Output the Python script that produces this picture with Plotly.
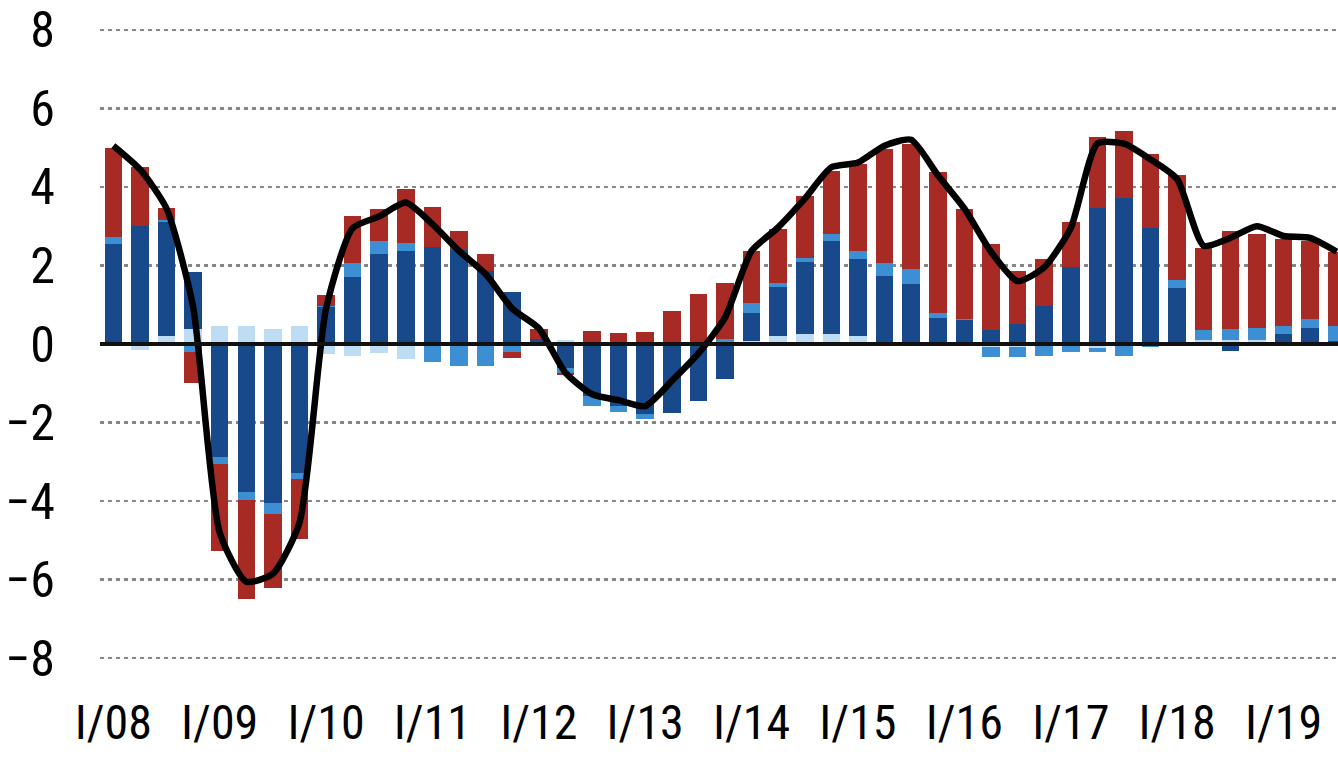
import plotly.graph_objects as go

# quarterly index 0 = I/2008 ... 46 = III/2019
quarters = list(range(47))
tick_pos = [0, 4, 8, 12, 16, 20, 24, 28, 32, 36, 40, 44]
tick_labels = ["I/08", "I/09", "I/10", "I/11", "I/12", "I/13", "I/14",
               "I/15", "I/16", "I/17", "I/18", "I/19"]

light_blue = [0.0, -0.15, 0.2, 0.38, 0.45, 0.46, 0.38, 0.46, -0.25, -0.3,
              -0.22, -0.38, -0.05, -0.03, -0.03, 0.0, 0.0, 0.1, 0.0, 0.0,
              0.0, 0.0, 0.0, 0.0, 0.08, 0.2, 0.25, 0.25, 0.2, 0.05,
              0.02, 0.0, 0.0, -0.07, -0.08, -0.06, -0.05, -0.1, -0.03, 0.0,
              0.03, 0.1, 0.1, 0.1, 0.0, 0.0, 0.0]
dark_blue = [2.55, 3.0, 2.9, 1.45, -2.88, -3.77, -4.05, -3.28, 0.93, 1.7,
             2.29, 2.37, 2.46, 2.39, 1.86, 1.33, 0.12, -0.62, -1.33, -1.58,
             -1.79, -1.75, -1.45, -0.9, 0.72, 1.25, 1.85, 2.38, 1.96, 1.68,
             1.5, 0.67, 0.6, 0.35, 0.5, 0.97, 1.95, 3.45, 3.73, 2.95,
             1.4, 0.0, -0.18, 0.0, 0.25, 0.4, 0.07]
mid_blue = [0.18, 0.0, 0.05, -0.2, -0.18, -0.19, -0.29, -0.16, 0.05, 0.35,
            0.34, 0.19, -0.4, -0.53, -0.53, -0.2, 0.0, -0.13, -0.25, -0.15,
            -0.12, 0.0, 0.0, 0.12, 0.25, 0.1, 0.08, 0.17, 0.21, 0.34,
            0.4, 0.13, 0.03, -0.25, -0.25, -0.25, -0.15, -0.1, -0.28, -0.08,
            0.2, 0.25, 0.27, 0.32, 0.2, 0.23, 0.38]
red = [2.27, 1.5, 0.3, -0.8, -2.22, -2.54, -1.86, -1.53, 0.28, 1.2,
       0.8, 1.39, 1.02, 0.49, 0.43, -0.15, 0.25, -0.05, 0.32, 0.28,
       0.3, 0.84, 1.27, 1.44, 1.32, 1.38, 1.6, 1.61, 2.21, 2.9,
       3.18, 3.57, 2.8, 2.19, 1.36, 1.19, 1.15, 1.81, 1.7, 1.89,
       2.67, 2.1, 2.51, 2.38, 2.22, 2.0, 1.88]
total_line = [5.05, 4.45, 3.45, 0.95, -4.8, -6.05, -5.85, -4.55, 0.9, 2.95,
              3.25, 3.6, 3.05, 2.37, 1.78, 0.9, 0.4, -0.73, -1.28, -1.43,
              -1.58, -0.94, -0.24, 0.67, 2.37, 2.97, 3.7, 4.5, 4.62, 5.05,
              5.2, 4.3, 3.45, 2.35, 1.6, 1.95, 2.95, 5.1, 5.1, 4.7,
              4.2, 2.5, 2.7, 3.0, 2.75, 2.7, 2.35]

y_ticks = [-8, -6, -4, -2, 0, 2, 4, 6, 8]

fig = go.Figure()
series = [
    (light_blue, "#bedcf3"),
    (dark_blue, "#18498a"),
    (mid_blue, "#3b8fd2"),
    (red, "#a72a24"),
]
for vals, col in series:
    fig.add_trace(go.Bar(x=quarters, y=vals, marker=dict(color=col, line=dict(width=0)),
                         width=0.66, showlegend=False, hoverinfo="skip"))

fig.add_trace(go.Scatter(x=quarters, y=total_line, mode="lines",
                         line=dict(color="black", width=6.5, shape="spline", smoothing=0.6),
                         showlegend=False, hoverinfo="skip"))

font_family = "Liberation Sans Narrow, Arial Narrow, Roboto Condensed, DejaVu Sans Condensed, Liberation Sans"

fig.update_layout(
    barmode="relative",
    bargap=0,
    width=1338, height=757,
    margin=dict(l=100, r=0, t=18, b=87, autoexpand=False),
    plot_bgcolor="white", paper_bgcolor="white",
    font=dict(family=font_family, size=50, color="black"),
    shapes=[dict(type="line", xref="paper", x0=0, x1=1, yref="y", y0=0, y1=0,
                 line=dict(color="#111111", width=4), layer="above")],
)
fig.update_xaxes(range=[-0.5, 46.05], tickmode="array", tickvals=tick_pos,
                 ticktext=tick_labels, showgrid=False, zeroline=False,
                 showline=False, ticks="", ticklabelstandoff=20, automargin=False,
                 ticklabeloverflow="allow",
                 tickfont=dict(family=font_family, size=48))
fig.update_yaxes(range=[-8.3, 8.3], tickmode="array", tickvals=y_ticks,
                 showgrid=True, gridcolor="#868686", gridwidth=2.5,
                 griddash="4px,4px", zeroline=False, showline=False,
                 ticks="", ticklabelstandoff=44, automargin=False,
                 ticklabeloverflow="allow",
                 tickfont=dict(family=font_family, size=50))

page_css = ("document.documentElement.style.margin='0';"
            "document.body.style.margin='0';"
            "document.body.style.overflow='hidden';")

fig.write_html("out.html", post_script=page_css,
               config={"displayModeBar": False, "staticPlot": True})
